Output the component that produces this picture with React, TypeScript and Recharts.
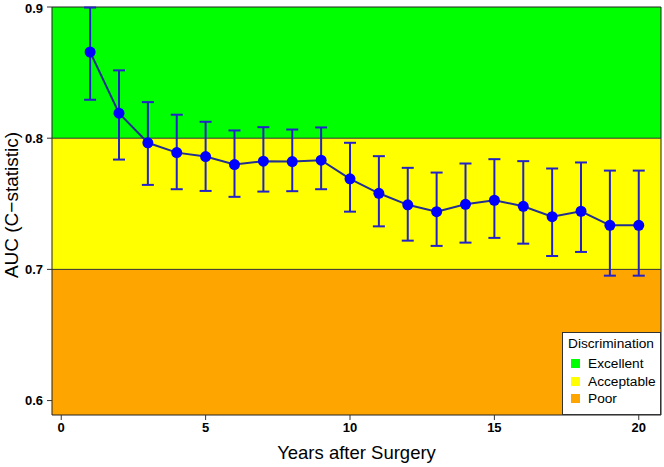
import {
  ComposedChart,
  Line,
  ErrorBar,
  XAxis,
  YAxis,
  ReferenceArea,
  ReferenceLine,
  Legend,
} from 'recharts';

const years = [1, 2, 3, 4, 5, 6, 7, 8, 9, 10, 11, 12, 13, 14, 15, 16, 17, 18, 19, 20];
const auc = [
  0.8657, 0.8191, 0.7965, 0.789, 0.786, 0.7799, 0.7825, 0.7822, 0.7832, 0.769,
  0.758, 0.7492, 0.744, 0.7496, 0.7527, 0.7481, 0.7402, 0.7443, 0.7336, 0.7336,
];
const lower = [
  0.8293, 0.7837, 0.7644, 0.7611, 0.7598, 0.7553, 0.7593, 0.7596, 0.7611, 0.744,
  0.7328, 0.7219, 0.7179, 0.7204, 0.724, 0.7196, 0.7102, 0.7133, 0.6952, 0.6952,
];
const upper = [
  0.8996, 0.8517, 0.8275, 0.8179, 0.8125, 0.8059, 0.8084, 0.8066, 0.8082, 0.7965,
  0.7863, 0.7774, 0.7738, 0.7807, 0.784, 0.7825, 0.7769, 0.7815, 0.7753, 0.7753,
];

const xTicks = [0, 5, 10, 15, 20];
const yTicks = [0.6, 0.7, 0.8, 0.9];

const bandNames = ['Excellent', 'Acceptable', 'Poor'];
const bandColors = ['#00ff00', '#ffff00', '#ffa500'];
const bandLimits = [
  [0.8, 0.9],
  [0.7, 0.8],
  [0.589, 0.7],
];

const X_DOMAIN = [-0.32, 20.77];
const Y_DOMAIN = [0.589, 0.9];
const FONT = '"Liberation Sans", Arial, Helvetica, sans-serif';

const data = years.map((year, i) => ({
  year,
  auc: auc[i],
  err: [auc[i] - lower[i], upper[i] - auc[i]],
}));

function LegendBox() {
  return (
    <div
      style={{
        background: '#fff',
        border: '1px solid #333',
        width: 99,
        height: 83,
        boxSizing: 'border-box',
        fontFamily: FONT,
        fontSize: 13.7,
        color: '#000',
        padding: '2px 0 0 5px',
        lineHeight: '17.3px',
      }}
    >
      <div style={{ marginBottom: 3 }}>Discrimination</div>
      {bandNames.map((name, i) => (
        <div key={name} style={{ display: 'flex', alignItems: 'center' }}>
          <span
            style={{
              display: 'inline-block',
              width: 9,
              height: 9,
              background: bandColors[i],
              marginLeft: 3,
              marginRight: 8,
            }}
          />
          {name}
        </div>
      ))}
    </div>
  );
}

export default function App() {
  return (
    <div style={{ position: 'absolute', left: 0, top: 0, background: '#fff' }}>
      <ComposedChart
        width={664}
        height={467}
        data={data}
        margin={{ top: 7, right: 3, bottom: 0, left: 0 }}
      >
        {bandLimits.map(([y1, y2], i) => (
          <ReferenceArea
            key={bandNames[i]}
            x1={X_DOMAIN[0]}
            x2={X_DOMAIN[1]}
            y1={y1}
            y2={y2}
            fill={bandColors[i]}
            fillOpacity={1}
            stroke="none"
          />
        ))}
        <ReferenceLine y={0.8} stroke="#333" strokeWidth={1} />
        <ReferenceLine y={0.7} stroke="#333" strokeWidth={1} />
        <ReferenceArea
          x1={X_DOMAIN[0]}
          x2={X_DOMAIN[1]}
          y1={Y_DOMAIN[0]}
          y2={Y_DOMAIN[1]}
          fill="none"
          stroke="#222"
          strokeWidth={1}
        />
        <XAxis
          dataKey="year"
          type="number"
          domain={X_DOMAIN}
          ticks={xTicks}
          allowDataOverflow
          height={52}
          axisLine={false}
          tickSize={5}
          tickMargin={3}
          tickLine={{ stroke: '#333' }}
          tick={{ fill: '#000', fontSize: 13, fontWeight: 'bold', fontFamily: FONT }}
          label={{
            content: () => (
              <text
                x={356.5}
                y={459}
                textAnchor="middle"
                fontSize={18.5}
                fontFamily={FONT}
                fill="#000"
              >
                Years after Surgery
              </text>
            ),
          }}
        />
        <YAxis
          type="number"
          domain={Y_DOMAIN}
          ticks={yTicks}
          allowDataOverflow
          width={52}
          axisLine={false}
          tickSize={5}
          tickMargin={4}
          tickLine={{ stroke: '#333' }}
          tickFormatter={(v) => v.toFixed(1)}
          tick={{ fill: '#000', fontSize: 13, fontWeight: 'bold', fontFamily: FONT }}
          label={{
            content: () => (
              <text
                x={17.5}
                y={205}
                transform="rotate(-90 17.5 205)"
                textAnchor="middle"
                fontSize={19}
                fontFamily={FONT}
                fill="#000"
              >
                AUC (C−statistic)
              </text>
            ),
          }}
        />
        <Line
          dataKey="auc"
          stroke="#24308f"
          strokeWidth={2}
          dot={{ r: 5.5, fill: '#0000ff', stroke: '#0000ff', strokeWidth: 0 }}
          activeDot={false}
          isAnimationActive={false}
        >
          <ErrorBar
            dataKey="err"
            direction="y"
            width={6}
            stroke="#2222c8"
            strokeWidth={2}
            isAnimationActive={false}
          />
        </Line>
        <Legend
          layout="vertical"
          align="center"
          verticalAlign="middle"
          wrapperStyle={{ position: 'absolute', left: 562, top: 332, width: 99 }}
          content={() => <LegendBox />}
        />
      </ComposedChart>
    </div>
  );
}
